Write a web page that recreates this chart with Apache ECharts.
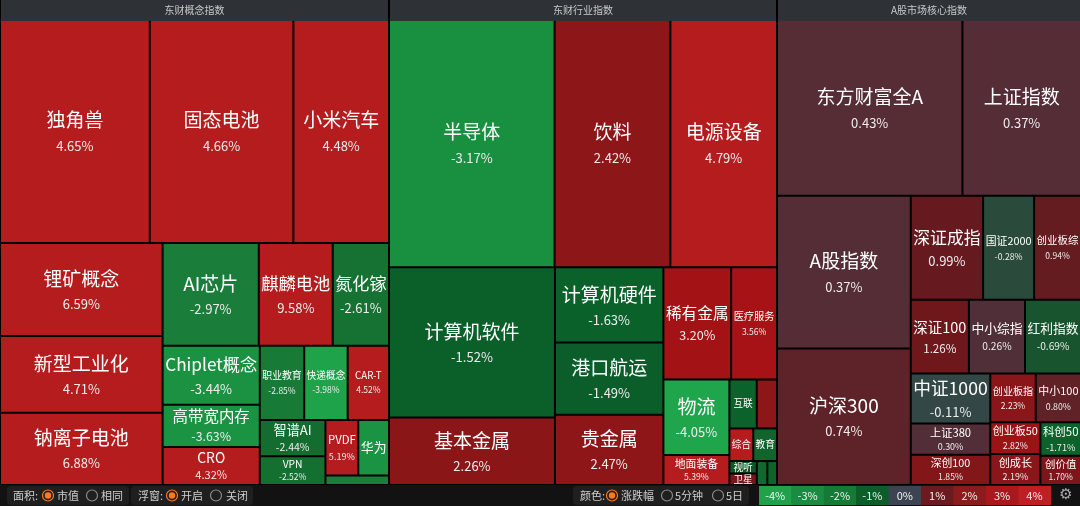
<!DOCTYPE html>
<html><head><meta charset="utf-8">
<script src="https://cdn.jsdelivr.net/npm/echarts@6.0.0/dist/echarts.min.js"></script>
<style>html,body{margin:0;padding:0;background:#000;}#c{width:1080px;height:506px;}</style>
</head><body><div id="c"></div>
<script>
// ---------- data ----------
const panelTitles = ['东财概念指数', '东财行业指数', 'A股市场核心指数'];

const conceptNames = ['独角兽','固态电池','小米汽车','锂矿概念','新型工业化','钠离子电池','AI芯片','麒麟电池','氮化镓','Chiplet概念','高带宽内存','CRO','职业教育','快递概念','CAR-T细胞','智谱AI','VPN','PVDF','华为','铜缆高速连接'];
const conceptCap   = [31800,30500,20300,14400,11850,11200,9400,7230,5500,5450,3900,3520,3140,3070,2920,2260,1800,1730,1620,580];
const conceptChg   = [4.65,4.66,4.48,6.59,4.71,6.88,-2.97,9.58,-2.61,-3.44,-3.63,4.32,-2.85,-3.98,4.52,-2.44,-2.52,5.19,-3.50,-3.00];

const industryNames = ['半导体','饮料','电源设备','计算机软件','基本金属','计算机硬件','港口航运','贵金属','稀有金属','医疗服务','物流','地面装备','互联网服务','电网设备','综合','教育','视听器材','卫星导航','光学光电子','通信设备'];
const industryCap   = [38900,27200,25050,23700,10660,7760,7440,7250,7240,4900,4725,1890,1270,940,740,735,324,300,240,220];
const industryChg   = [-3.17,2.42,4.79,-1.52,2.26,-1.63,-1.49,2.47,3.20,3.56,-4.05,5.39,-1.70,2.30,4.50,-2.00,-1.20,1.50,-2.20,-1.90];

const indexNames = ['东方财富全A','上证指数','A股指数','沪深300','深证成指','国证2000','创业板综','深证100','中小综指','红利指数','中证1000','上证380','深创100','创业板指','中小100','创业板50','创成长','科创50','创价值'];
const indexCap   = [31100,19880,19480,17420,7170,5050,4650,4100,3960,3950,3790,2370,2290,2110,2100,1520,1480,1300,1130];
const indexChg   = [0.43,0.37,0.37,0.74,0.99,-0.28,0.94,1.26,0.26,-0.69,-0.11,0.30,1.85,2.23,0.80,2.82,2.19,-1.71,1.70];

const legendTicks = [-4,-3,-2,-1,0,1,2,3,4];

// ---------- styles ----------
const FONT = "'Microsoft YaHei','Noto Sans CJK SC',sans-serif";
const colorStops = [
  [-4.0,[31,165,76]], [-3.9,[27,149,68]], [-3.1,[25,144,64]], [-3.0,[26,126,58]],
  [-2.4,[19,108,47]], [-2.0,[16,100,44]], [-1.7,[11,98,42]], [-1.0,[12,86,38]],
  [-0.5,[32,82,50]], [-0.2,[45,73,62]], [0,[58,68,80]], [0.2,[80,48,58]],
  [0.45,[86,44,53]], [1.0,[102,26,31]], [1.5,[118,22,26]], [2.0,[136,22,25]],
  [2.5,[142,22,24]], [3.0,[160,18,20]], [3.6,[168,18,22]], [4.0,[181,28,30]]
];
const legendColors = ['#1fa24b','#1a8c41','#167a37','#0d5d28','#3c4352','#6b1b20','#8c1b1e','#a9181c','#bf1f23'];

function chgColor(v) {
  const x = Math.max(-4, Math.min(4, v));
  for (let i = 0; i < colorStops.length - 1; i++) {
    const a = colorStops[i], b = colorStops[i + 1];
    if (x >= a[0] && x <= b[0]) {
      const t = (x - a[0]) / (b[0] - a[0]);
      const c = a[1].map((ch, k) => Math.round(ch + (b[1][k] - ch) * t));
      return 'rgb(' + c.join(',') + ')';
    }
  }
  return 'rgb(58,68,80)';
}
function pctText(v) { return v.toFixed(2) + '%'; }

const panels = [
  { title: panelTitles[0], names: conceptNames, caps: conceptCap, chgs: conceptChg, left: 1, width: 387 },
  { title: panelTitles[1], names: industryNames, caps: industryCap, chgs: industryChg, left: 390, width: 386 },
  { title: panelTitles[2], names: indexNames, caps: indexCap, chgs: indexChg, left: 778, width: 302 }
];

const mctx = document.createElement('canvas').getContext('2d');
function textW(t, size) { mctx.font = size + 'px ' + FONT; return mctx.measureText(t).width; }

function labelFor(name, chg, box) {
  if (!box) return null;
  const w = box.w, h = box.h;
  if (w < 20.5 || h < 9) return { show: false };
  const w100 = textW(name, 100);
  let nf = Math.min(19, (w - 3) * 100 / w100, h / 2.6);
  nf = Math.max(9.7, nf);
  const pf = Math.min(13, Math.max(8.5, nf * 0.8));
  const pstr = pctText(chg);
  const pw = textW(pstr, pf);
  const showPct = pw <= w - 2 && h >= nf + pf + 4;
  let L1 = nf * 1.6, L2 = pf * 1.6;
  if (showPct) {
    const tot = L1 + L2;
    if (tot > h - 1) { const k = (h - 1) / tot; L1 *= k; L2 *= k; }
  } else {
    L1 = Math.min(L1, h);
  }
  const ch = L1 + (showPct ? L2 : 0);
  const top = Math.max(0, Math.floor((h - ch) / 2));
  const str = '{n|' + name + '}' + (showPct ? '\n{p|' + pstr + '}' : '');
  return {
    show: true, padding: [top, 0, 0, 0],
    formatter: function () { return str; },
    rich: {
      n: { fontSize: nf, lineHeight: L1, color: '#ffffff', fontFamily: FONT },
      p: { fontSize: pf, lineHeight: L2, color: '#ececec', fontFamily: FONT }
    }
  };
}

function buildSeries(p, si, sizes) {
  const children = p.names.map(function (nm, i) {
    const item = { name: nm, value: p.caps[i], itemStyle: { color: chgColor(p.chgs[i]) } };
    if (sizes) {
      const lb = labelFor(nm, p.chgs[i], sizes[si + '|' + nm]);
      if (lb) item.label = lb;
    }
    return item;
  });
  return {
    type: 'treemap', left: p.left, top: 0, width: p.width, height: 484,
    roam: false, nodeClick: false, animation: false,
    breadcrumb: { show: false }, visibleMin: 0, sort: 'desc',
    label: { show: true, position: 'inside', color: '#fff', fontFamily: FONT, overflow: 'truncate', ellipsis: '', padding: 0 },
    upperLabel: { show: false },
    itemStyle: { borderWidth: 0, gapWidth: 0, borderColor: '#000' },
    emphasis: { disabled: true },
    levels: [
      { itemStyle: { borderWidth: 0, gapWidth: 0, borderColor: '#000' }, upperLabel: { show: false } },
      { itemStyle: { borderWidth: 0, gapWidth: 2, borderColor: '#000' },
        upperLabel: { show: true, height: 21, color: '#c8c8c8', fontSize: 10, fontFamily: FONT,
          backgroundColor: '#2e3236', position: 'inside', align: 'center', verticalAlign: 'middle', padding: 0 } },
      { itemStyle: { borderWidth: 0, gapWidth: 0, borderColor: '#000' } }
    ],
    data: [{ name: p.title, children: children }]
  };
}

// ---------- bottom bar ----------
function buildGraphic() {
  const els = [];
  const cy = 495.5;
  els.push({ type: 'rect', shape: { x: 0, y: 485, width: 1080, height: 21 }, style: { fill: '#121212' }, silent: true });
  const ctl = [
    { box: [7, 122], label: ['面积:', 13], opts: [['市值', 48, 57, true], ['相同', 92, 101, false]] },
    { box: [131, 122], label: ['浮窗:', 138], opts: [['开启', 172, 181, true], ['关闭', 216, 226, false]] },
    { box: [573, 176], label: ['颜色:', 580], opts: [['涨跌幅', 612, 621, true], ['5分钟', 667, 675, false], ['5日', 718, 726, false]] }
  ];
  ctl.forEach(function (g) {
    els.push({ type: 'rect', shape: { x: g.box[0], y: 486, width: g.box[1], height: 19, r: 4 }, style: { fill: '#1f1f1f' }, silent: true });
    els.push({ type: 'text', x: g.label[1], y: cy, style: { text: g.label[0], fill: '#cfcfcf', font: '11px ' + FONT, verticalAlign: 'middle' }, silent: true });
    g.opts.forEach(function (o) {
      els.push({ type: 'circle', shape: { cx: o[1], cy: cy, r: 5.5 }, style: { fill: 'none', stroke: o[3] ? '#ff7a1a' : '#8a8a8a', lineWidth: 1.2 }, silent: true });
      if (o[3]) els.push({ type: 'circle', shape: { cx: o[1], cy: cy, r: 3.2 }, style: { fill: '#ff7a1a' }, silent: true });
      els.push({ type: 'text', x: o[2], y: cy, style: { text: o[0], fill: '#cfcfcf', font: '11px ' + FONT, verticalAlign: 'middle' }, silent: true });
    });
  });
  const x0 = 759, bw = 32.4;
  legendTicks.forEach(function (t, i) {
    els.push({ type: 'rect', shape: { x: x0 + i * bw, y: 486, width: bw + 0.5, height: 19 }, style: { fill: legendColors[i] }, silent: true });
    els.push({ type: 'text', x: x0 + i * bw + bw / 2, y: cy, style: { text: t + '%', fill: '#f0f0f0', font: '11px ' + FONT, align: 'center', verticalAlign: 'middle' }, silent: true });
  });
  els.push({ type: 'text', x: 1066, y: cy, style: { text: '⚙', fill: '#a8a8a8', font: '15px "DejaVu Sans"', align: 'center', verticalAlign: 'middle' }, silent: true });
  return els;
}

function buildOption(sizes) {
  return {
    backgroundColor: '#000',
    animation: false,
    series: panels.map(function (p, i) { return buildSeries(p, i, sizes); }),
    graphic: { elements: buildGraphic() }
  };
}

const chart = echarts.init(document.getElementById('c'));
chart.setOption(buildOption(null));
const sizes = {};
try {
  chart.getModel().eachSeries(function (s, idx) {
    const data = s.getData();
    const tree = data.tree || (s.getRawData && s.getRawData().tree);
    tree.root.eachNode(function (node) {
      if (node.children && node.children.length) return;
      const l = node.getLayout();
      if (l && l.width != null) sizes[idx + '|' + node.name] = { w: l.width, h: l.height };
    });
  });
} catch (e) { console.log('layout read failed', e); }
chart.setOption(buildOption(sizes), true);
</script></body></html>
